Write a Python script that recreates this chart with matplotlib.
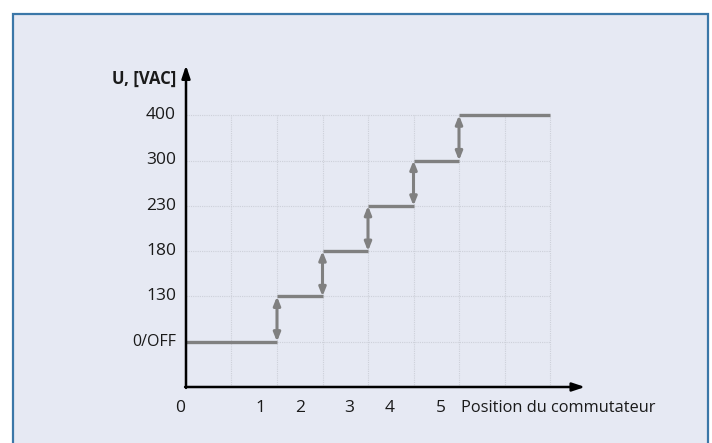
import matplotlib.pyplot as plt
from matplotlib.patches import Rectangle

# Niveaux de tension (axe vertical, schématique) et positions du commutateur
voltage_labels = ['0/OFF', '130', '180', '230', '300', '400']
voltage_levels = [1, 2, 3, 4, 5, 6]
position_labels = ['0', '1', '2', '3', '4', '5']
position_x = [-0.13, 1.63, 2.5, 3.58, 4.48, 5.6]
# bords des paliers en unités de grille
step_edges = [0, 2, 3, 4, 5, 6, 8]

W, H = 712, 443
fig = plt.figure(figsize=(W / 100, H / 100), dpi=100, facecolor='white')

ox, oy, sx, sy = 186, 387, 45.5, 45.3
ax = fig.add_axes([0, 0, 1, 1])
ax.set_xlim(-ox / sx, (W - ox) / sx)
ax.set_ylim((oy - H) / sy, oy / sy)
ax.axis('off')

# cadre bleu (ouvert en bas)
ax.add_patch(Rectangle((12.5 / W, -0.05), (708 - 12.5) / W, (H - 13.5) / H + 0.05,
                       transform=fig.transFigure, facecolor='#e6e9f3',
                       edgecolor='#3b77a8', linewidth=1.6, zorder=0, clip_on=False))

font = 'Open Sans'
txt_c = '#1a1a1a'
grid_c = '#cdd0d9'
line_c = '#808080'

# grille pointillée
for gx in range(1, 9):
    ax.plot([gx, gx], [0, 6], color=grid_c, lw=0.8, ls=(0, (1, 1)), zorder=1)
for gy in voltage_levels:
    ax.plot([0, 8], [gy, gy], color=grid_c, lw=0.8, ls=(0, (1, 1)), zorder=1)

# paliers
for i, lvl in enumerate(voltage_levels):
    ax.plot([step_edges[i], step_edges[i + 1]], [lvl, lvl], color=line_c,
            lw=2.4, solid_capstyle='butt', zorder=3)

# flèches doubles entre paliers
for i in range(len(voltage_levels) - 1):
    x = step_edges[i + 1]
    ax.annotate('', xy=(x, voltage_levels[i + 1]), xytext=(x, voltage_levels[i]),
                arrowprops=dict(arrowstyle='<|-|>,head_length=0.5,head_width=0.2',
                                color=line_c, lw=2.2, shrinkA=0, shrinkB=0), zorder=3)

# axes avec flèches
ax.annotate('', xy=(0, 7.1), xytext=(0, -0.02),
            arrowprops=dict(arrowstyle='-|>,head_length=0.75,head_width=0.25',
                            color='black', lw=1.8, shrinkA=0, shrinkB=0), zorder=4)
ax.annotate('', xy=(8.77, 0), xytext=(-0.02, 0),
            arrowprops=dict(arrowstyle='-|>,head_length=0.75,head_width=0.25',
                            color='black', lw=1.8, shrinkA=0, shrinkB=0), zorder=4)

# étiquettes
for lab, lvl in zip(voltage_labels, voltage_levels):
    ax.text(-0.22, lvl, lab, ha='right', va='center',
            fontsize=11.5 if '/' in lab else 12.5, family=font, color=txt_c)
ax.text(-0.22, 6.8, 'U, [VAC]', ha='right', va='center', fontsize=12,
        family=font, fontweight='bold', color=txt_c)
for lab, px in zip(position_labels, position_x):
    ax.text(px, -0.47, lab, ha='center', va='center', fontsize=12.5,
            family=font, color=txt_c)
ax.text(6.04, -0.47, 'Position du commutateur', ha='left', va='center',
        fontsize=11.8, family=font, color=txt_c)

fig.savefig('out.png', dpi=100)
